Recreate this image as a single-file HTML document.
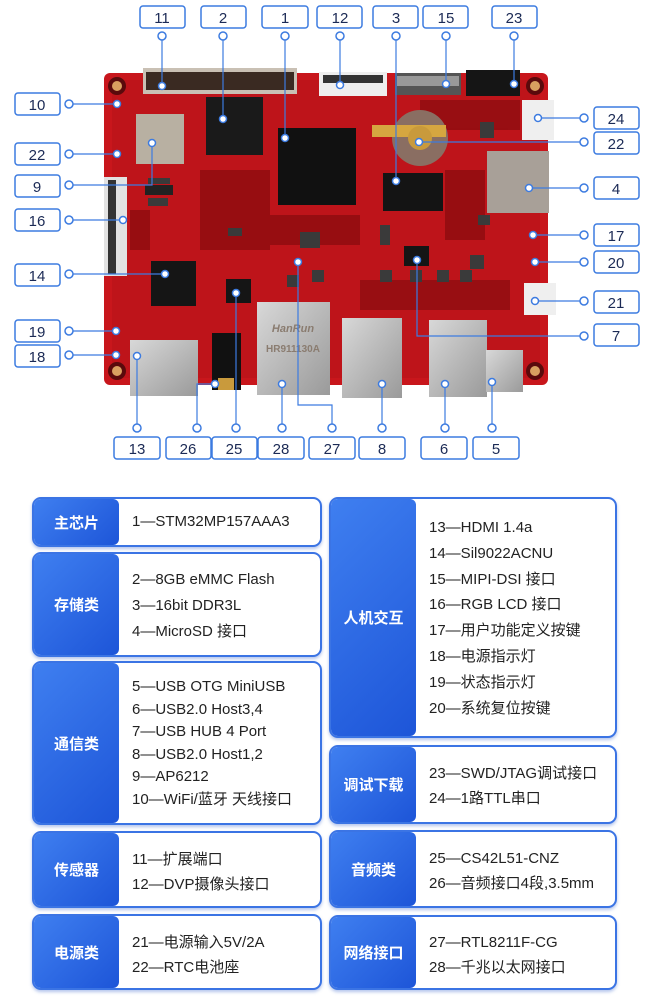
<!DOCTYPE html>
<html><head><meta charset="utf-8"><style>
html,body{margin:0;padding:0;background:#fff;}
body{width:650px;height:997px;position:relative;overflow:hidden;font-family:"Liberation Sans","Noto Sans CJK SC",sans-serif;}
.box{position:absolute;border:2px solid #3b74e4;border-radius:9px;background:#fff;box-sizing:border-box;overflow:hidden;box-shadow:0 2px 3px rgba(40,90,200,.35);}
.hd{position:absolute;left:0;top:0;bottom:0;width:85px;background:linear-gradient(135deg,#3f7ff0,#1d55d8);color:#fff;font-weight:bold;font-size:15px;display:flex;align-items:center;justify-content:center;border-radius:6px;}
.tx{position:absolute;left:98px;font-size:15px;color:#222;line-height:22.6px;white-space:nowrap;}
</style></head><body>
<svg width="650" height="460" style="position:absolute;left:0;top:0" font-family="Liberation Sans, sans-serif">
<defs>
<linearGradient id="sil" x1="0" y1="0" x2="1" y2="1"><stop offset="0" stop-color="#d8d8d8"/><stop offset="1" stop-color="#9a9a9a"/></linearGradient>
</defs>
<rect x="104" y="73" width="444" height="312" rx="6" fill="#c8161c"/>
<rect x="112" y="80" width="428" height="298" fill="#b31218" opacity=".5"/>
<g fill="#8e0c10" opacity=".8">
<rect x="270" y="215" width="90" height="30"/><rect x="445" y="170" width="40" height="70"/><rect x="200" y="170" width="70" height="80"/><rect x="130" y="210" width="20" height="40"/><rect x="360" y="280" width="150" height="30"/><rect x="420" y="100" width="100" height="30"/>
</g>
<g fill="#3a3a3a">
<rect x="148" y="178" width="22" height="6"/><rect x="148" y="198" width="20" height="8"/><rect x="228" y="228" width="14" height="8"/><rect x="478" y="215" width="12" height="10"/><rect x="470" y="255" width="14" height="14"/><rect x="380" y="225" width="10" height="20"/><rect x="300" y="232" width="20" height="16"/><rect x="480" y="122" width="14" height="16"/><rect x="287" y="275" width="12" height="12"/><rect x="312" y="270" width="12" height="12"/><rect x="380" y="270" width="12" height="12"/><rect x="410" y="270" width="12" height="12"/><rect x="437" y="270" width="12" height="12"/><rect x="460" y="270" width="12" height="12"/>
</g>
<g fill="#5a0a0c"><circle cx="117" cy="86" r="9"/><circle cx="535" cy="86" r="9"/><circle cx="117" cy="371" r="9"/><circle cx="535" cy="371" r="9"/></g>
<g fill="#d9a060"><circle cx="117" cy="86" r="5"/><circle cx="535" cy="86" r="5"/><circle cx="117" cy="371" r="5"/><circle cx="535" cy="371" r="5"/></g>
<rect x="143" y="68" width="154" height="26" fill="#c9c0b4"/><rect x="146" y="72" width="148" height="18" fill="#3a2a22"/>
<rect x="319" y="72" width="68" height="24" fill="#eeeeee"/><rect x="323" y="75" width="60" height="8" fill="#333"/>
<rect x="395" y="73" width="66" height="22" fill="#555"/><rect x="397" y="76" width="62" height="10" fill="#999"/>
<rect x="466" y="70" width="54" height="26" fill="#151515"/>
<rect x="522" y="100" width="32" height="40" fill="#efefef"/>
<rect x="524" y="283" width="32" height="32" fill="#efefef"/>
<rect x="136" y="114" width="48" height="50" fill="#b8b0a2"/>
<rect x="206" y="97" width="57" height="58" fill="#1a1a1a"/>
<rect x="278" y="128" width="78" height="77" fill="#111"/>
<circle cx="420" cy="138" r="28" fill="#8a6e62"/><rect x="372" y="125" width="74" height="12" fill="#d6a640"/><circle cx="420" cy="138" r="12" fill="#c99a3c"/>
<rect x="383" y="173" width="60" height="38" fill="#141414"/>
<rect x="487" y="151" width="62" height="62" fill="#a8a098"/>
<rect x="104" y="177" width="23" height="99" fill="#e2e2e2"/><rect x="108" y="180" width="8" height="94" fill="#333"/>
<rect x="151" y="261" width="45" height="45" fill="#151515"/>
<rect x="226" y="279" width="25" height="24" fill="#151515"/>
<rect x="404" y="246" width="25" height="20" fill="#151515"/>
<rect x="145" y="185" width="28" height="10" fill="#222"/>
<rect x="257" y="302" width="73" height="93" fill="url(#sil)"/>
<text x="293" y="332" font-size="11" font-weight="bold" fill="#8a7c70" text-anchor="middle" font-style="italic">HanRun</text>
<text x="293" y="352" font-size="10" font-weight="bold" fill="#8a7c70" text-anchor="middle">HR911130A</text>
<rect x="342" y="318" width="60" height="80" fill="url(#sil)"/>
<rect x="429" y="320" width="58" height="77" fill="url(#sil)"/>
<rect x="486" y="350" width="37" height="42" fill="url(#sil)"/>
<rect x="130" y="340" width="68" height="56" fill="url(#sil)"/>
<rect x="212" y="333" width="29" height="57" fill="#111"/>
<rect x="218" y="378" width="16" height="12" fill="#c99a3c"/>
<g stroke="#3c7be0" stroke-width="1.2" fill="none">
<path d="M162 40V86M223 40V119M285 40V138M340 40V85M396 40V181M446 40V84M514 40V84"/>
<path d="M73 104H117M73 154H117M73 185H152V143M73 220H123M73 274H165M73 331H116M73 355H116"/>
<path d="M580 118H538M580 142H419M580 188H529M580 235H533M580 262H535M580 301H535M580 336H417V260"/>
<path d="M137 424V356M197 424V384H215M236 424V293M282 424V384M332 424V405H298V262M382 424V384M445 424V384M492 424V382"/>
</g>
<g stroke="#3c7be0" stroke-width="1.5" fill="#fff">
<circle cx="162" cy="36" r="4"/><circle cx="223" cy="36" r="4"/><circle cx="285" cy="36" r="4"/><circle cx="340" cy="36" r="4"/><circle cx="396" cy="36" r="4"/><circle cx="446" cy="36" r="4"/><circle cx="514" cy="36" r="4"/>
<circle cx="69" cy="104" r="4"/><circle cx="69" cy="154" r="4"/><circle cx="69" cy="185" r="4"/><circle cx="69" cy="220" r="4"/><circle cx="69" cy="274" r="4"/><circle cx="69" cy="331" r="4"/><circle cx="69" cy="355" r="4"/>
<circle cx="584" cy="118" r="4"/><circle cx="584" cy="142" r="4"/><circle cx="584" cy="188" r="4"/><circle cx="584" cy="235" r="4"/><circle cx="584" cy="262" r="4"/><circle cx="584" cy="301" r="4"/><circle cx="584" cy="336" r="4"/>
<circle cx="137" cy="428" r="4"/><circle cx="197" cy="428" r="4"/><circle cx="236" cy="428" r="4"/><circle cx="282" cy="428" r="4"/><circle cx="332" cy="428" r="4"/><circle cx="382" cy="428" r="4"/><circle cx="445" cy="428" r="4"/><circle cx="492" cy="428" r="4"/>
<circle cx="162" cy="86" r="3.5"/><circle cx="223" cy="119" r="3.5"/><circle cx="285" cy="138" r="3.5"/><circle cx="340" cy="85" r="3.5"/><circle cx="396" cy="181" r="3.5"/><circle cx="446" cy="84" r="3.5"/><circle cx="514" cy="84" r="3.5"/>
<circle cx="117" cy="104" r="3.5"/><circle cx="117" cy="154" r="3.5"/><circle cx="152" cy="143" r="3.5"/><circle cx="123" cy="220" r="3.5"/><circle cx="165" cy="274" r="3.5"/><circle cx="116" cy="331" r="3.5"/><circle cx="116" cy="355" r="3.5"/>
<circle cx="538" cy="118" r="3.5"/><circle cx="419" cy="142" r="3.5"/><circle cx="529" cy="188" r="3.5"/><circle cx="533" cy="235" r="3.5"/><circle cx="535" cy="262" r="3.5"/><circle cx="535" cy="301" r="3.5"/><circle cx="417" cy="260" r="3.5"/>
<circle cx="137" cy="356" r="3.5"/><circle cx="215" cy="384" r="3.5"/><circle cx="236" cy="293" r="3.5"/><circle cx="282" cy="384" r="3.5"/><circle cx="298" cy="262" r="3.5"/><circle cx="382" cy="384" r="3.5"/><circle cx="445" cy="384" r="3.5"/><circle cx="492" cy="382" r="3.5"/>
</g>
<g stroke="#3c7be0" stroke-width="1.5" fill="#fff">
<rect x="140" y="6" width="45" height="22" rx="3"/><rect x="201" y="6" width="45" height="22" rx="3"/><rect x="262" y="6" width="46" height="22" rx="3"/><rect x="317" y="6" width="45" height="22" rx="3"/><rect x="373" y="6" width="45" height="22" rx="3"/><rect x="423" y="6" width="45" height="22" rx="3"/><rect x="492" y="6" width="45" height="22" rx="3"/>
<rect x="15" y="93" width="45" height="22" rx="3"/><rect x="15" y="143" width="45" height="22" rx="3"/><rect x="15" y="175" width="45" height="22" rx="3"/><rect x="15" y="209" width="45" height="22" rx="3"/><rect x="15" y="264" width="45" height="22" rx="3"/><rect x="15" y="320" width="45" height="22" rx="3"/><rect x="15" y="345" width="45" height="22" rx="3"/>
<rect x="594" y="107" width="45" height="22" rx="3"/><rect x="594" y="132" width="45" height="22" rx="3"/><rect x="594" y="177" width="45" height="22" rx="3"/><rect x="594" y="224" width="45" height="22" rx="3"/><rect x="594" y="251" width="45" height="22" rx="3"/><rect x="594" y="291" width="45" height="22" rx="3"/><rect x="594" y="324" width="45" height="22" rx="3"/>
<rect x="114" y="437" width="46" height="22" rx="3"/><rect x="166" y="437" width="45" height="22" rx="3"/><rect x="212" y="437" width="45" height="22" rx="3"/><rect x="258" y="437" width="46" height="22" rx="3"/><rect x="309" y="437" width="46" height="22" rx="3"/><rect x="359" y="437" width="46" height="22" rx="3"/><rect x="421" y="437" width="46" height="22" rx="3"/><rect x="473" y="437" width="46" height="22" rx="3"/>
</g>
<g font-size="15" fill="#1b2a55" text-anchor="middle">
<text x="162" y="23">11</text><text x="223" y="23">2</text><text x="285" y="23">1</text><text x="340" y="23">12</text><text x="396" y="23">3</text><text x="446" y="23">15</text><text x="514" y="23">23</text>
<text x="37" y="110">10</text><text x="37" y="160">22</text><text x="37" y="192">9</text><text x="37" y="226">16</text><text x="37" y="281">14</text><text x="37" y="337">19</text><text x="37" y="362">18</text>
<text x="616" y="124">24</text><text x="616" y="149">22</text><text x="616" y="194">4</text><text x="616" y="241">17</text><text x="616" y="268">20</text><text x="616" y="308">21</text><text x="616" y="341">7</text>
<text x="137" y="454">13</text><text x="188" y="454">26</text><text x="234" y="454">25</text><text x="281" y="454">28</text><text x="332" y="454">27</text><text x="382" y="454">8</text><text x="444" y="454">6</text><text x="496" y="454">5</text>
</g>
</svg>

<div class="box" style="left:32px;top:497px;width:290px;height:50px"><div class="hd">主芯片</div><div class="tx" style="top:12px">1—STM32MP157AAA3</div></div>
<div class="box" style="left:32px;top:552px;width:290px;height:105px"><div class="hd">存储类</div><div class="tx" style="top:13px;line-height:26px">2—8GB eMMC Flash<br>3—16bit DDR3L<br>4—MicroSD 接口</div></div>
<div class="box" style="left:32px;top:661px;width:290px;height:164px"><div class="hd">通信类</div><div class="tx" style="top:13px">5—USB OTG MiniUSB<br>6—USB2.0 Host3,4<br>7—USB HUB 4 Port<br>8—USB2.0 Host1,2<br>9—AP6212<br>10—WiFi/蓝牙 天线接口</div></div>
<div class="box" style="left:32px;top:831px;width:290px;height:77px"><div class="hd">传感器</div><div class="tx" style="top:14px;line-height:25px">11—扩展端口<br>12—DVP摄像头接口</div></div>
<div class="box" style="left:32px;top:914px;width:290px;height:76px"><div class="hd">电源类</div><div class="tx" style="top:14px;line-height:25px">21—电源输入5V/2A<br>22—RTC电池座</div></div>

<div class="box" style="left:329px;top:497px;width:288px;height:241px"><div class="hd">人机交互</div><div class="tx" style="top:16px;line-height:25.8px">13—HDMI 1.4a<br>14—Sil9022ACNU<br>15—MIPI-DSI 接口<br>16—RGB LCD 接口<br>17—用户功能定义按键<br>18—电源指示灯<br>19—状态指示灯<br>20—系统复位按键</div></div>
<div class="box" style="left:329px;top:745px;width:288px;height:79px"><div class="hd">调试下载</div><div class="tx" style="top:14px;line-height:25px">23—SWD/JTAG调试接口<br>24—1路TTL串口</div></div>
<div class="box" style="left:329px;top:830px;width:288px;height:78px"><div class="hd">音频类</div><div class="tx" style="top:14px;line-height:25px">25—CS42L51-CNZ<br>26—音频接口4段,3.5mm</div></div>
<div class="box" style="left:329px;top:915px;width:288px;height:75px"><div class="hd">网络接口</div><div class="tx" style="top:13px;line-height:25px">27—RTL8211F-CG<br>28—千兆以太网接口</div></div>
</body></html>
